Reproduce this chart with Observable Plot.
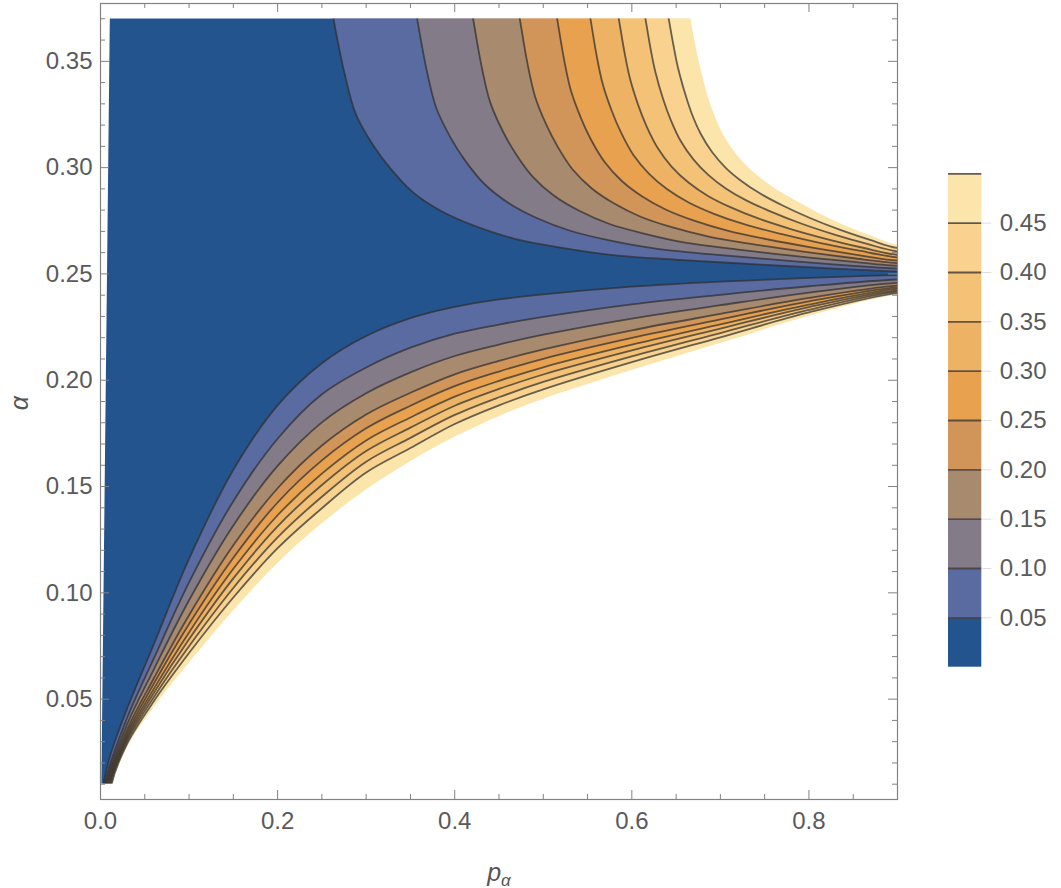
<!DOCTYPE html>
<html><head><meta charset="utf-8">
<script src="https://cdn.jsdelivr.net/npm/d3@7"></script>
<script src="https://cdn.jsdelivr.net/npm/@observablehq/plot@0.6"></script>
<style>
html,body{margin:0;padding:0;background:#fff;}
#wrap{position:relative;width:1061px;height:888px;overflow:hidden;font-family:"Liberation Sans",Arial,sans-serif;}
#wrap svg{position:absolute;top:0;}
.axlab{position:absolute;color:#555;font-style:italic;font-size:25px;white-space:nowrap;transform:translate(-50%,-50%);}
.axlab sub{font-size:17px;vertical-align:-5px;}
</style></head><body><div id="wrap"></div>
<script>
// ---------- data ----------
const pDomain = [0, 0.9];            // p_alpha range of the data
const alphaDomain = [0.01, 0.37];    // alpha range of the data
const levels = [0.05, 0.10, 0.15, 0.20, 0.25, 0.30, 0.35, 0.40, 0.45, 0.50];
const legendTicks = [0.05, 0.10, 0.15, 0.20, 0.25, 0.30, 0.35, 0.40, 0.45];
const bandColors = ["#24548e", "#5a6ba2", "#847b88", "#a88a6e", "#d1955a",
                    "#e8a24f", "#eeb265", "#f3c277", "#f8d28e", "#fce5aa"];
const xTicks = [0, 0.2, 0.4, 0.6, 0.8];
const xMinor = [0.05, 0.1, 0.15, 0.25, 0.3, 0.35, 0.45, 0.5, 0.55, 0.65, 0.7, 0.75, 0.85];
const yTicks = [0.05, 0.10, 0.15, 0.20, 0.25, 0.30, 0.35];
const yMinor = [0.01, 0.02, 0.03, 0.04, 0.06, 0.07, 0.08, 0.09, 0.11, 0.12, 0.13, 0.14,
                0.16, 0.17, 0.18, 0.19, 0.21, 0.22, 0.23, 0.24, 0.26, 0.27, 0.28, 0.29,
                0.31, 0.32, 0.33, 0.34, 0.36, 0.37];
const leftEdgeP = [0.001, 0.0105];   // left border of the computed region
const leftEdgeA = [0.01, 0.37];

// upper contour curves [p, alpha], from the top edge toward p = 0.9
const upper05 = [[.2631,.37],[.2758,.3439],[.2886,.3249],[.3077,.3106],[.3268,.2999],[.3523,.2886],[.3841,.2797],[.4223,.2726],[.4669,.2666],[.5179,.2625],[.5816,.2587],[.6580,.2565],[.7408,.2545],[.8236,.2526],[.9,.2512]];
const upper10 = [[.3576,.37],[.3684,.3457],[.3793,.3279],[.3956,.3139],[.4118,.3033],[.4335,.2923],[.4607,.2834],[.4932,.2762],[.5312,.2702],[.5746,.2658],[.6288,.2618],[.6939,.2591],[.7644,.2566],[.8349,.2543],[.9,.2526]];
const upper15 = [[.4208,.37],[.4304,.3475],[.4400,.3308],[.4543,.3171],[.4687,.3067],[.4879,.2958],[.5118,.2869],[.5406,.2797],[.5741,.2736],[.6125,.2691],[.6604,.2647],[.7179,.2616],[.7802,.2586],[.8425,.2560],[.9,.2539]];
const upper20 = [[.4735,.37],[.4820,.3493],[.4906,.3336],[.5034,.3202],[.5162,.3099],[.5332,.2991],[.5545,.2903],[.5801,.2831],[.6100,.2769],[.6441,.2721],[.6868,.2676],[.7379,.2639],[.7934,.2605],[.8488,.2575],[.9,.2551]];
const upper25 = [[.5157,.37],[.5234,.3510],[.5311,.3364],[.5426,.3233],[.5541,.3130],[.5695,.3025],[.5887,.2937],[.6118,.2864],[.6387,.2802],[.6694,.2752],[.7079,.2704],[.7540,.2662],[.8039,.2624],[.8539,.2590],[.9,.2563]];
const upper30 = [[.5533,.37],[.5602,.3528],[.5672,.3392],[.5776,.3264],[.5880,.3163],[.6018,.3059],[.6192,.2972],[.6400,.2898],[.6642,.2836],[.6920,.2784],[.7267,.2734],[.7683,.2688],[.8133,.2645],[.8584,.2608],[.9,.2578]];
const upper35 = [[.5853,.37],[.5916,.3545],[.5979,.3419],[.6073,.3293],[.6168,.3193],[.6294,.3091],[.6451,.3004],[.6640,.2930],[.6860,.2867],[.7112,.2814],[.7427,.2761],[.7804,.2710],[.8213,.2663],[.8622,.2622],[.9,.2590]];
const upper40 = [[.6154,.37],[.6211,.3561],[.6268,.3446],[.6353,.3323],[.6439,.3225],[.6552,.3125],[.6695,.3039],[.6866,.2965],[.7065,.2901],[.7292,.2846],[.7577,.2792],[.7919,.2736],[.8289,.2685],[.8658,.2641],[.9,.2606]];
const upper45 = [[.6417,.37],[.6469,.3578],[.6520,.3472],[.6598,.3353],[.6675,.3256],[.6779,.3158],[.6908,.3072],[.7063,.2998],[.7244,.2935],[.7450,.2878],[.7709,.2821],[.8018,.2762],[.8354,.2707],[.8690,.2660],[.9,.2622]];
const upper50 = [[.6662,.37],[.6709,.3594],[.6756,.3498],[.6826,.3381],[.6896,.3285],[.6989,.3190],[.7106,.3105],[.7247,.3030],[.7410,.2967],[.7597,.2908],[.7831,.2850],[.8112,.2786],[.8416,.2727],[.8719,.2677],[.9,.2637]];

// lower contour curves [p, alpha], from the bottom edge toward p = 0.9
const lower05 = [[.0034,.01],[.01,.022],[.02,.0345],[.03,.0455],[.06,.0756],[.1,.1160],[.15,.1579],[.2,.1882],[.25,.2080],[.3,.2208],[.35,.2292],[.4,.2345],[.45,.2380],[.5,.2404],[.6,.2440],[.7,.2464],[.8,.2481],[.9,.2494]];
const lower10 = [[.0045,.01],[.03,.0410],[.06,.0689],[.1,.1049],[.15,.1431],[.2,.1725],[.25,.1934],[.3,.2060],[.35,.2153],[.4,.2219],[.45,.2262],[.5,.2298],[.6,.2357],[.7,.2402],[.8,.2442],[.9,.2474]];
const lower15 = [[.0057,.01],[.03,.0380],[.06,.0638],[.1,.0965],[.15,.1317],[.2,.1597],[.25,.1802],[.3,.1939],[.35,.2037],[.4,.2114],[.45,.2168],[.5,.2214],[.6,.2290],[.7,.2353],[.8,.2412],[.9,.2458]];
const lower20 = [[.0068,.01],[.03,.0356],[.06,.0596],[.1,.0895],[.15,.1224],[.2,.1492],[.25,.1693],[.3,.1839],[.35,.1941],[.4,.2028],[.45,.2091],[.5,.2145],[.6,.2235],[.7,.2312],[.8,.2387],[.9,.2445]];
const lower25 = [[.0079,.01],[.03,.0340],[.06,.0571],[.1,.0853],[.15,.1165],[.2,.1425],[.25,.1623],[.3,.1774],[.35,.1880],[.4,.1972],[.45,.2041],[.5,.2101],[.6,.2199],[.7,.2286],[.8,.2371],[.9,.2437]];
const lower30 = [[.0091,.01],[.03,.0326],[.06,.0547],[.1,.0814],[.15,.1113],[.2,.1365],[.25,.1561],[.3,.1717],[.35,.1825],[.4,.1923],[.45,.1997],[.5,.2061],[.6,.2167],[.7,.2263],[.8,.2356],[.9,.2430]];
const lower35 = [[.0102,.01],[.03,.0314],[.06,.0528],[.1,.0782],[.15,.1068],[.2,.1313],[.25,.1507],[.3,.1667],[.35,.1777],[.4,.1880],[.45,.1959],[.5,.2027],[.6,.2140],[.7,.2243],[.8,.2344],[.9,.2423]];
const lower40 = [[.0113,.01],[.03,.0302],[.06,.0508],[.1,.0749],[.15,.1023],[.2,.1261],[.25,.1452],[.3,.1617],[.35,.1729],[.4,.1837],[.45,.1920],[.5,.1992],[.6,.2112],[.7,.2222],[.8,.2331],[.9,.2417]];
const lower45 = [[.0125,.01],[.03,.0290],[.06,.0489],[.1,.0717],[.15,.0978],[.2,.1210],[.25,.1398],[.3,.1566],[.35,.1681],[.4,.1794],[.45,.1882],[.5,.1957],[.6,.2085],[.7,.2202],[.8,.2319],[.9,.2410]];
const lower50 = [[.0136,.01],[.03,.0274],[.06,.0463],[.1,.0673],[.15,.0919],[.2,.1142],[.25,.1328],[.3,.1487],[.35,.1620],[.4,.1735],[.45,.1832],[.5,.1913],[.6,.2049],[.7,.2176],[.8,.2303],[.9,.2402]];

// ---------- construction ----------
const upperCurves = [upper05, upper10, upper15, upper20, upper25, upper30, upper35, upper40, upper45, upper50];
const lowerCurves = [lower05, lower10, lower15, lower20, lower25, lower30, lower35, lower40, lower45, lower50];

const W = 1061, H = 888, mL = 100, mR = 164, mT = 3, mB = 89;
const innerW = W - mL - mR, innerH = H - mT - mB;
const yFrame = [0.0028, 0.3772];   // frame padding around the alpha range

// extend each curve beyond the data region so it can be filled (overflow is masked / clipped)
function extUpper(c) {
  const p0 = c[0][0], aEnd = c[c.length - 1][1];
  return [[p0 - 0.008, 0.39], ...c, [0.93, aEnd], [0.97, aEnd], [0.97, 0.45], [p0 - 0.02, 0.45]];
}
function extLower(c) {
  const p0 = c[0][0], aEnd = c[c.length - 1][1];
  return [[p0 - 0.004, -0.01], ...c, [0.93, aEnd], [0.97, aEnd], [0.97, -0.05], [p0 - 0.02, -0.05]];
}
const P = d => d[0], A = d => d[1];
const lineColor = "#2e2e2e";
const frameColor = "#828282";
const labelColor = "#5a5a5a";
const font = '"Liberation Sans", Arial, sans-serif';
const marks = [];

// base: lowest band fills the whole data region
marks.push(Plot.rect([0], {x1: pDomain[0], x2: pDomain[1], y1: alphaDomain[0], y2: alphaDomain[1], fill: bandColors[0]}));
// upper bands (region above each contour), painted from low to high level
upperCurves.forEach((c, k) => marks.push(Plot.line(extUpper(c), {
  x: P, y: A, fill: k < 9 ? bandColors[k + 1] : "white", stroke: "none", curve: "catmull-rom", clip: true})));
// lower bands (region below each contour)
lowerCurves.forEach((c, k) => marks.push(Plot.line(extLower(c), {
  x: P, y: A, fill: k < 9 ? bandColors[k + 1] : "white", stroke: "none", curve: "catmull-rom", clip: true})));
// contour lines (levels 0.05 ... 0.45)
for (let k = 0; k < 9; k++) {
  marks.push(Plot.line(extUpper(upperCurves[k]), {x: P, y: A, stroke: lineColor, strokeOpacity: 0.72, strokeWidth: 1.8, curve: "catmull-rom", clip: true}));
  marks.push(Plot.line(extLower(lowerCurves[k]), {x: P, y: A, stroke: lineColor, strokeOpacity: 0.72, strokeWidth: 1.8, curve: "catmull-rom", clip: true}));
}
// white masks outside the computed region
marks.push(Plot.rect([0], {x1: -0.1, x2: 1, y1: alphaDomain[1], y2: 0.5, fill: "white", clip: true}));
marks.push(Plot.rect([0], {x1: -0.1, x2: 1, y1: -0.1, y2: alphaDomain[0], fill: "white", clip: true}));
marks.push(Plot.line([[-0.05, -0.05], [leftEdgeP[0] - 0.0005, -0.05], [leftEdgeP[0], leftEdgeA[0]],
                      [leftEdgeP[1], leftEdgeA[1]], [leftEdgeP[1] + 0.0005, 0.45], [-0.05, 0.45]],
                     {x: P, y: A, fill: "white", stroke: "none", clip: true}));
// frame and inward ticks on all four sides
marks.push(Plot.frame({stroke: frameColor, strokeWidth: 1.2}));
marks.push(Plot.ruleX(xTicks, {insetTop: innerH - 9, stroke: frameColor}));
marks.push(Plot.ruleX(xTicks, {insetBottom: innerH - 9, stroke: frameColor}));
marks.push(Plot.ruleX(xMinor, {insetTop: innerH - 5, stroke: frameColor}));
marks.push(Plot.ruleX(xMinor, {insetBottom: innerH - 5, stroke: frameColor}));
marks.push(Plot.ruleY(yTicks, {insetRight: innerW - 9, stroke: frameColor}));
marks.push(Plot.ruleY(yTicks, {insetLeft: innerW - 9, stroke: frameColor}));
marks.push(Plot.ruleY(yMinor, {insetRight: innerW - 5, stroke: frameColor}));
marks.push(Plot.ruleY(yMinor, {insetLeft: innerW - 5, stroke: frameColor}));
// tick labels
marks.push(Plot.axisX(xTicks, {anchor: "bottom", tickSize: 0, tickPadding: 12, tickFormat: d3.format(".1f"), label: null, fill: labelColor}));
marks.push(Plot.axisY(yTicks, {anchor: "left", tickSize: 0, tickPadding: 8, tickFormat: d3.format(".2f"), label: null, fill: labelColor}));

const main = Plot.plot({
  width: W, height: H, marginLeft: mL, marginRight: mR, marginTop: mT, marginBottom: mB,
  x: {domain: pDomain}, y: {domain: yFrame},
  style: {fontFamily: font, fontSize: "24px", color: labelColor, background: "transparent", overflow: "visible"},
  marks
});
main.style.left = "0px";

// ---------- legend (colour bar) ----------
const bands = levels.map((hi, i) => ({lo: i === 0 ? 0 : levels[i - 1], hi, color: bandColors[i]}));
const legMarks = bands.map(b => Plot.rect([b], {x1: 0, x2: 1, y1: d => d.lo, y2: d => d.hi, fill: b.color}));
legMarks.push(Plot.ruleY(levels, {x1: 0, x2: 1, stroke: "#4a4038", strokeWidth: 1.8, strokeOpacity: 0.85}));
legMarks.push(Plot.ruleY(legendTicks, {x1: 1, x2: 1.3, stroke: "#dddddd"}));
legMarks.push(Plot.axisY(legendTicks, {anchor: "right", tickSize: 0, tickPadding: 18, tickFormat: d3.format(".2f"), label: null, fill: labelColor}));
const legend = Plot.plot({
  width: 113, height: H, marginLeft: 0, marginRight: 79.7, marginTop: 173.3, marginBottom: 221.3,
  x: {domain: [0, 1], axis: null}, y: {domain: [0, 0.5], axis: null},
  style: {fontFamily: font, fontSize: "24px", color: labelColor, background: "transparent", overflow: "visible"},
  marks: legMarks
});
legend.style.left = "948px";

const wrap = document.getElementById("wrap");
wrap.appendChild(main);
wrap.appendChild(legend);

// axis titles
const xl = document.createElement("div");
xl.className = "axlab"; xl.innerHTML = "p<sub>α</sub>";
xl.style.left = "499px"; xl.style.top = "874px";
wrap.appendChild(xl);
const yl = document.createElement("div");
yl.className = "axlab"; yl.textContent = "α";
yl.style.left = "19px"; yl.style.top = "403px";
yl.style.transform = "translate(-50%,-50%) rotate(-90deg)";
wrap.appendChild(yl);
</script></body></html>
